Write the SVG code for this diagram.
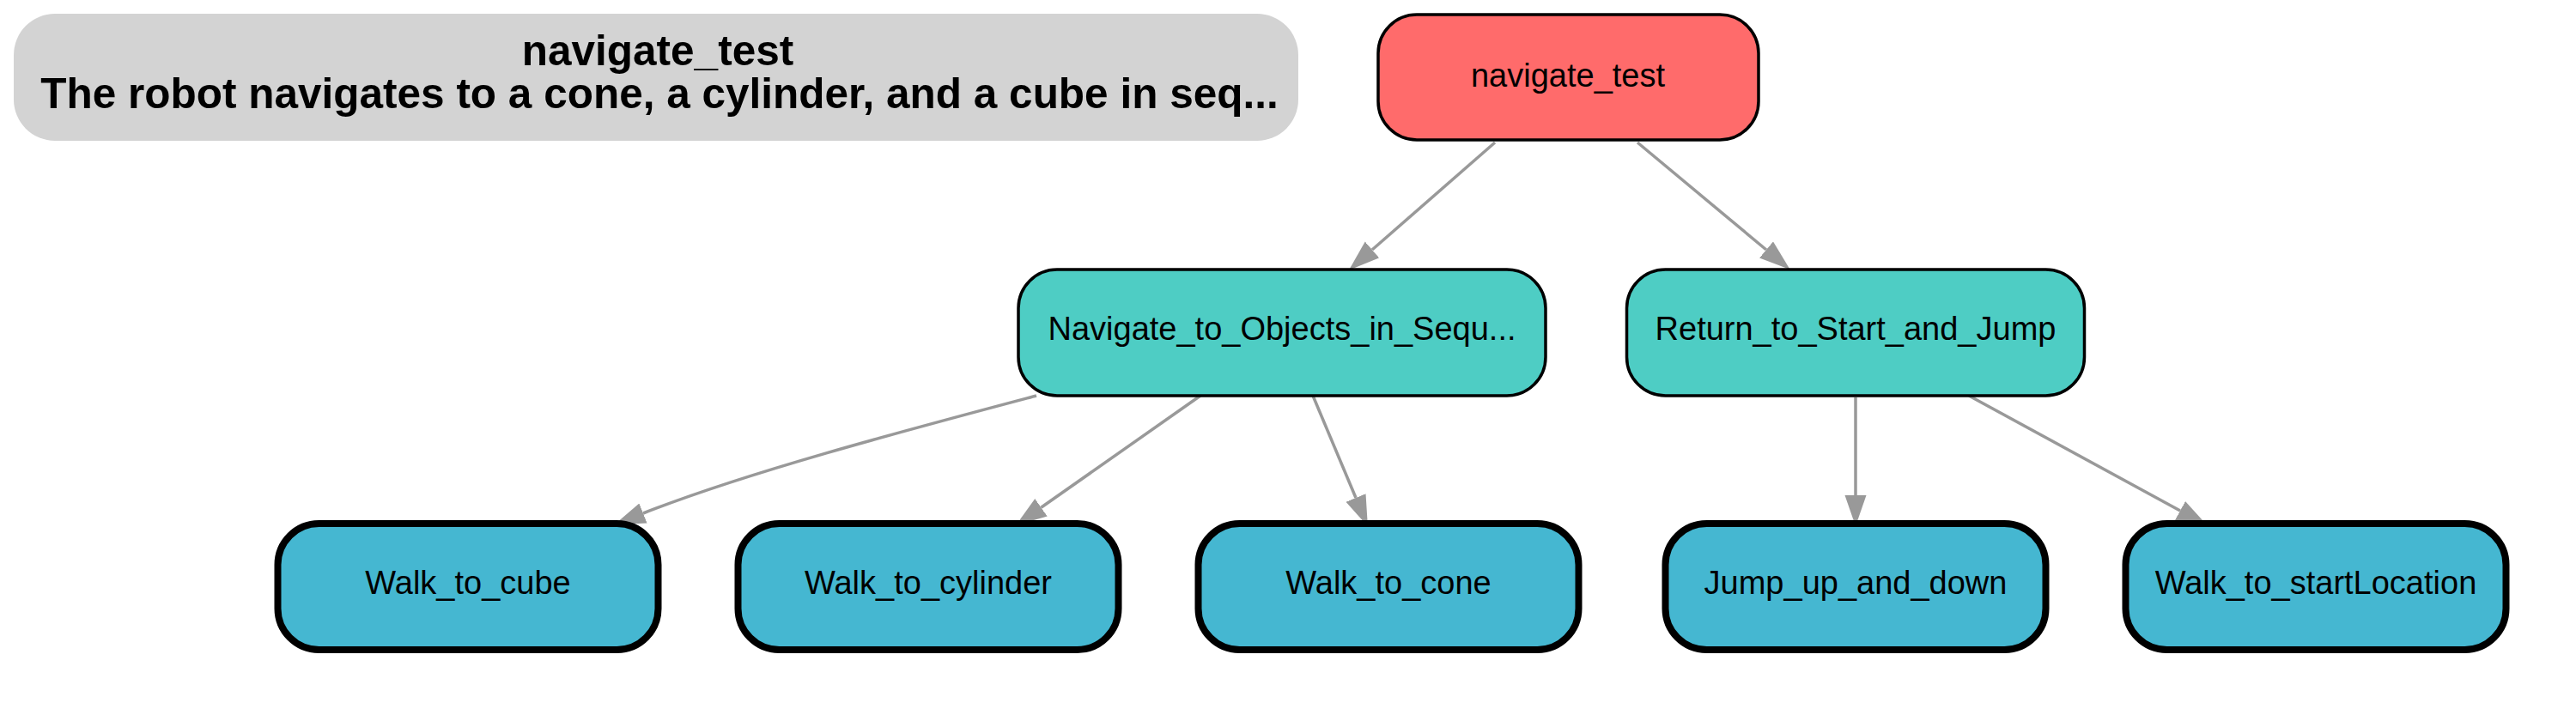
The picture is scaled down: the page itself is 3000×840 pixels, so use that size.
<svg xmlns="http://www.w3.org/2000/svg" width="3000" height="840" viewBox="0 0 3000 840">
<style>
.t{font-family:"Liberation Sans",Arial,sans-serif;fill:#000;text-anchor:middle}
.lbl{font-size:38px}
.ttl{font-size:49.5px;font-weight:bold}
.root{fill:#FF6B6B;stroke:#000;stroke-width:3.5}
.mid{fill:#4ECDC4;stroke:#000;stroke-width:3.5}
.leaf{fill:#45B7D1;stroke:#000;stroke-width:8}
.e{fill:none;stroke:#999999;stroke-width:3.5}
</style>
<defs>
<marker id="ah" markerUnits="userSpaceOnUse" markerWidth="37" markerHeight="26" refX="0" refY="12.5" orient="auto">
<path d="M0,0 L36,12.5 L0,25 Z" fill="#999999"/>
</marker>
</defs>
<rect width="3000" height="840" fill="#fff"/>
<g id="title">
<rect x="16" y="16" width="1496" height="148" rx="48" ry="48" fill="#D3D3D3"/>
<text class="t ttl" x="766" y="76">navigate_test</text>
<text class="t ttl" x="768" y="126">The robot navigates to a cone, a cylinder, and a cube in seq...</text>
</g>
<g id="connectors">
<path class="e" d="M1741,166 L1598,291" marker-end="url(#ah)"/>
<path class="e" d="M1907,166 L2057,291" marker-end="url(#ah)"/>
<path class="e" d="M1207,461 C1060,500 870,550 749,598" marker-end="url(#ah)"/>
<path class="e" d="M1398,461 L1212.5,591.3" marker-end="url(#ah)"/>
<path class="e" d="M1529,461 L1579,580" marker-end="url(#ah)"/>
<path class="e" d="M2161,463 L2161,577" marker-end="url(#ah)"/>
<path class="e" d="M2293,461 L2539,595" marker-end="url(#ah)"/>
</g>
<g id="node_navigate_test">
<rect class="root" x="1605" y="17" width="443" height="146" rx="45" ry="45"/>
<text class="t lbl" x="1826" y="101">navigate_test</text>
</g>
<g id="node_Navigate_to_Objects">
<rect class="mid" x="1186" y="314" width="614" height="147" rx="45" ry="45"/>
<text class="t lbl" x="1493" y="396">Navigate_to_Objects_in_Sequ...</text>
</g>
<g id="node_Return_to_Start_and_Jump">
<rect class="mid" x="1894.5" y="314" width="533" height="147" rx="45" ry="45"/>
<text class="t lbl" x="2161" y="396">Return_to_Start_and_Jump</text>
</g>
<g id="node_Walk_to_cube">
<rect class="leaf" x="323.5" y="610" width="443" height="147" rx="48" ry="48"/>
<text class="t lbl" x="545" y="692">Walk_to_cube</text>
</g>
<g id="node_Walk_to_cylinder">
<rect class="leaf" x="859.5" y="610" width="443" height="147" rx="48" ry="48"/>
<text class="t lbl" x="1081" y="692">Walk_to_cylinder</text>
</g>
<g id="node_Walk_to_cone">
<rect class="leaf" x="1395.5" y="610" width="443" height="147" rx="48" ry="48"/>
<text class="t lbl" x="1617" y="692">Walk_to_cone</text>
</g>
<g id="node_Jump_up_and_down">
<rect class="leaf" x="1939.5" y="610" width="443" height="147" rx="48" ry="48"/>
<text class="t lbl" x="2161" y="692">Jump_up_and_down</text>
</g>
<g id="node_Walk_to_startLocation">
<rect class="leaf" x="2475.5" y="610" width="443" height="147" rx="48" ry="48"/>
<text class="t lbl" x="2697" y="692">Walk_to_startLocation</text>
</g>
</svg>
